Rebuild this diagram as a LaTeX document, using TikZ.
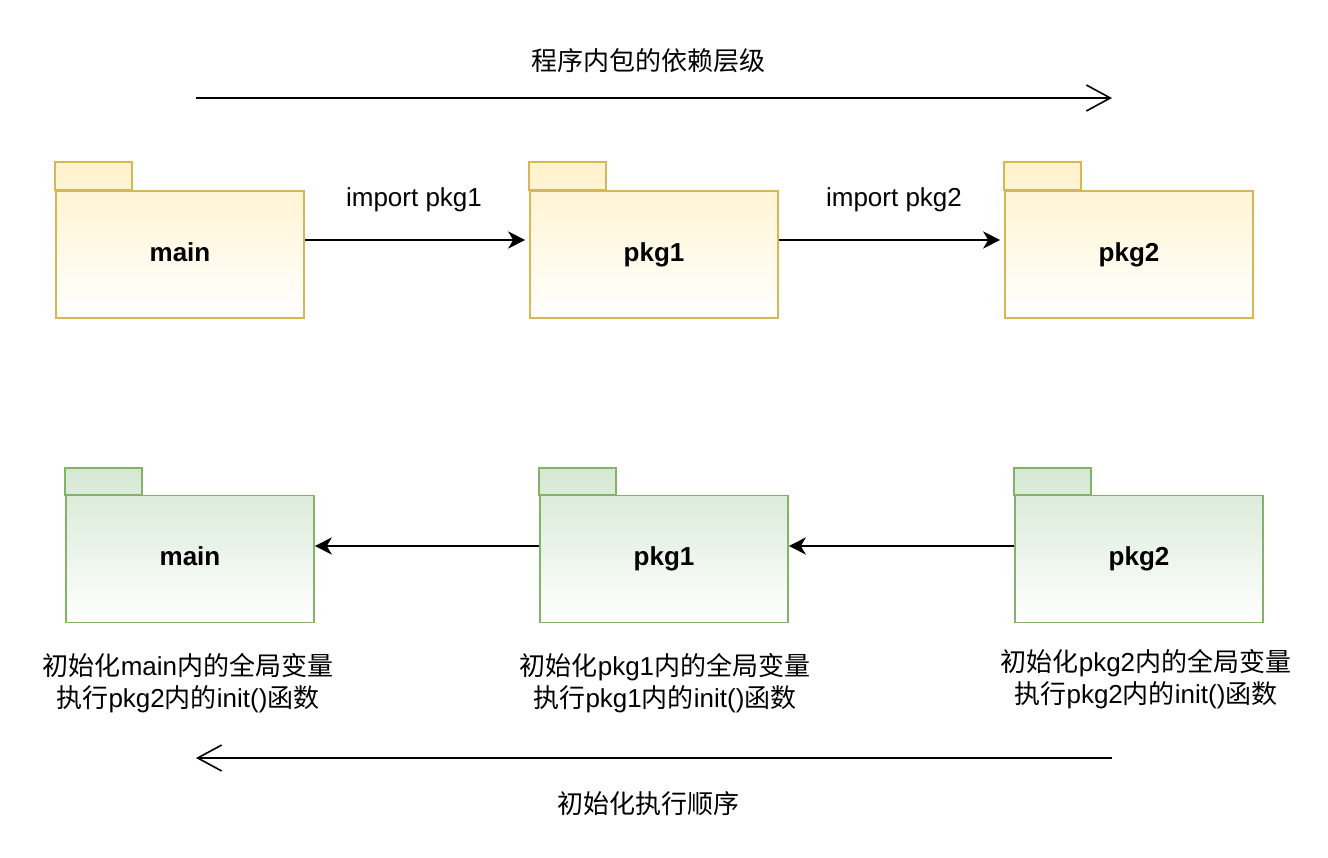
\documentclass[tikz,border=0pt]{standalone}
\usepackage{fontspec}
\setmainfont{Liberation Sans}
\newfontfamily\cjk{Noto Sans CJK SC}
\usetikzlibrary{arrows.meta}
\definecolor{yfill}{HTML}{FFF2CC}
\definecolor{ystroke}{HTML}{D6B656}
\definecolor{gfill}{HTML}{D5E8D4}
\definecolor{gstroke}{HTML}{82B366}
\begin{document}
\begin{tikzpicture}[x=1pt,y=-1pt,
  pkgbody/.style={rectangle, minimum width=248pt, minimum height=127pt, inner sep=0pt, line width=1.6pt,
    font=\fontsize{26}{32}\selectfont\bfseries},
  ybody/.style={pkgbody, draw=ystroke, top color=yfill!85!white, bottom color=white},
  gbody/.style={pkgbody, draw=gstroke, top color=gfill!85!white, bottom color=white},
  ytab/.style={draw=ystroke, line width=1.6pt, top color=yfill, bottom color=yfill!85!white},
  gtab/.style={draw=gstroke, line width=1.6pt, top color=gfill, bottom color=gfill!85!white},
  conn/.style={line width=2pt, -{Stealth[length=17pt,width=17pt,inset=5pt]}},
  flow/.style={line width=1.6pt, -{Straight Barb[length=24pt,width=26pt,line width=1.6pt]}},
  txt/.style={font=\fontsize{26}{32}\selectfont, align=center, inner sep=0pt}
]
\useasboundingbox (0,0) rectangle (1328,858);

% top row
\node[ybody] (m1) at (180,254.5) {\raisebox{4pt}{main}};
\node[ybody] (p1) at (654,254.5) {\raisebox{3pt}{pkg1}};
\node[ybody] (q1) at (1129,254.5) {\raisebox{3pt}{pkg2}};
\foreach \n in {m1,p1,q1}
  \draw[ytab] (\n.north west) rectangle ++(77,-28);

\draw[conn, shorten >=4pt] ([yshift=14.5pt]m1.east) -- ([yshift=14.5pt]p1.west);
\draw[conn, shorten >=4pt] ([yshift=14.5pt]p1.east) -- ([yshift=14.5pt]q1.west);
\node[txt] (l1) at (414,200) {import pkg1};
\node[txt] (l2) at (894,200) {import pkg2};

\coordinate (a1) at (196,98);
\coordinate (a2) at (1112,98);
\draw[flow] (a1) -- (a2);
\node[txt] (t1) at (648,61) {\cjk 程序内包的依赖层级};

% bottom row
\node[gbody] (m2) at (190,559) {\raisebox{5pt}{main}};
\node[gbody] (p2) at (664,559) {\raisebox{3pt}{pkg1}};
\node[gbody] (q2) at (1139,559) {\raisebox{3pt}{pkg2}};
\foreach \n in {m2,p2,q2}
  \draw[gtab] (\n.north west) rectangle ++(77,-27);

\draw[conn] ([yshift=13pt]p2.west) -- ([yshift=13pt]m2.east);
\draw[conn] ([yshift=13pt]q2.west) -- ([yshift=13pt]p2.east);

\node[txt] (c1) at (188,683) {{\cjk 初始化}main{\cjk 内的全局变量}\\{\cjk 执行}pkg2{\cjk 内的}init(){\cjk 函数}};
\node[txt] (c2) at (665,683) {{\cjk 初始化}pkg1{\cjk 内的全局变量}\\{\cjk 执行}pkg1{\cjk 内的}init(){\cjk 函数}};
\node[txt] (c3) at (1146,679) {{\cjk 初始化}pkg2{\cjk 内的全局变量}\\{\cjk 执行}pkg2{\cjk 内的}init(){\cjk 函数}};

\coordinate (b1) at (1112,758);
\coordinate (b2) at (196,758);
\draw[flow] (b1) -- (b2);
\node[txt] (t2) at (648,804) {\cjk 初始化执行顺序};
\end{tikzpicture}
\end{document}
